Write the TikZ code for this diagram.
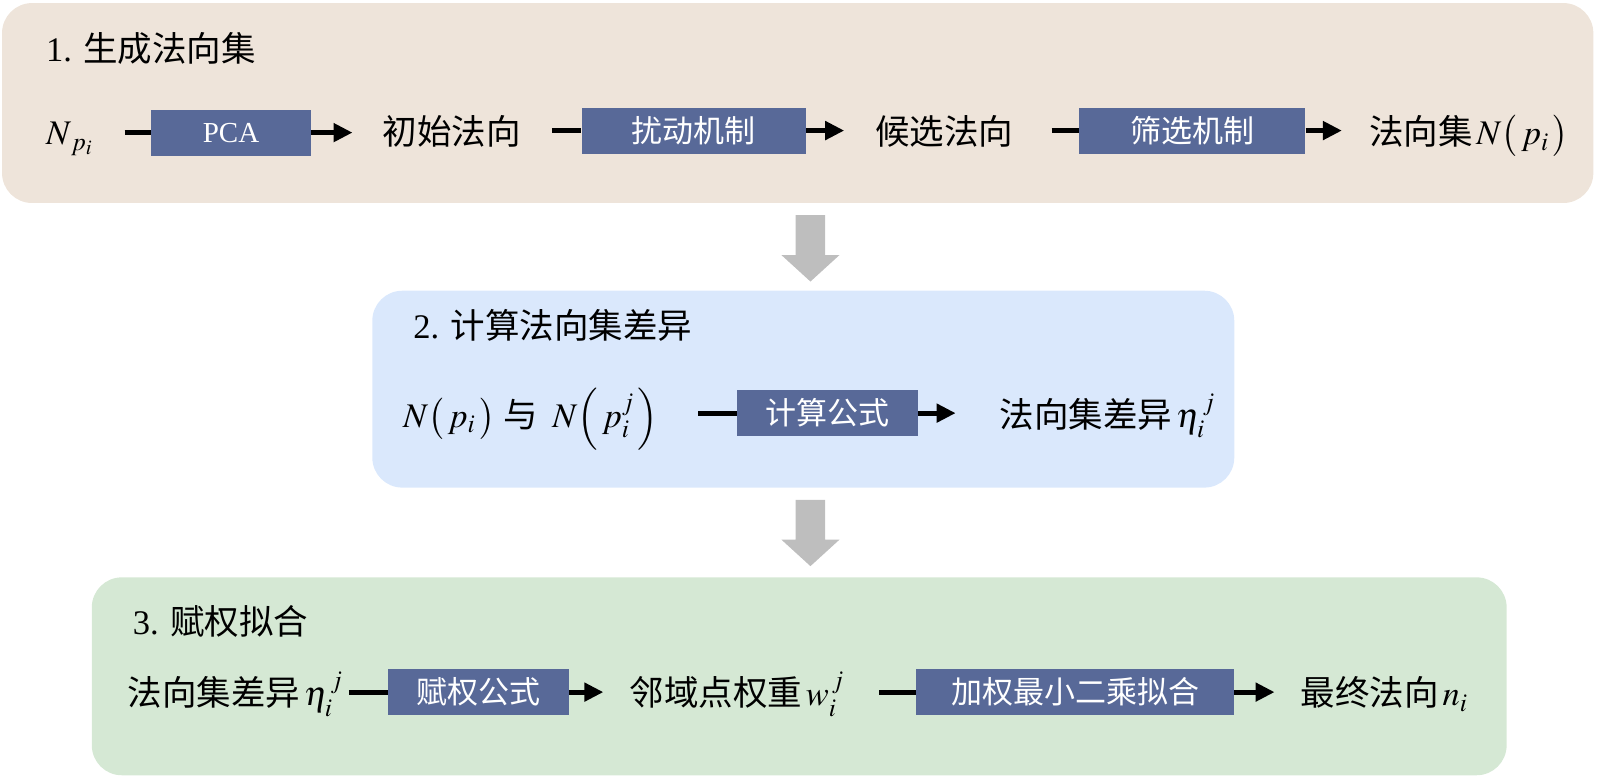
\documentclass[tikz,border=0pt]{standalone}
\usepackage{mathptmx}
\usepackage{fontspec}
\setmainfont{Liberation Serif}
\newfontfamily\cjk{Noto Sans CJK SC}
\usetikzlibrary{arrows.meta}
\definecolor{stageA}{RGB}{238,228,218}
\definecolor{stageB}{RGB}{218,232,252}
\definecolor{stageC}{RGB}{213,232,212}
\definecolor{procfill}{RGB}{88,105,152}
\definecolor{gapgray}{RGB}{190,190,190}
\tikzset{
  stage/.style={rounded corners=30pt},
  title/.style={anchor=base west, inner sep=0pt, font=\fontsize{34.5}{40}\selectfont},
  term/.style={anchor=base west, inner sep=0pt, font=\fontsize{34.5}{40}\selectfont},
  proc/.style={fill=procfill, text=white, inner sep=0pt, minimum height=46pt, font=\fontsize{31}{36}\selectfont\cjk},
  feed/.style={line width=5pt},
  flow/.style={line width=5pt, -{Triangle[length=19pt,width=18pt]}},
}
\newcommand{\gaparrow}[1]{\fill[gapgray] (780,#1) -- (809,#1) -- (809,#1+39) -- (823,#1+39) -- (794.5,#1+65) -- (766,#1+39) -- (780,#1+39) -- cycle;}
\begin{document}
\begin{tikzpicture}[x=1.02pt, y=-1.02pt]
    \useasboundingbox (0,0) rectangle (1565.6,766.7);
    % stages
    \fill[stageA, stage] (2,3) rectangle (1562,199);
    \fill[stageB, stage] (365,285) rectangle (1210,478);
    \fill[stageC, stage] (90,566) rectangle (1477,760);
    \gaparrow{211}
    \gaparrow{490}
    % stage 1
    \node[title] (t1) at (45,60) {1. {\cjk 生成法向集}};
    \node[term] (np) at (45,142) {$N_{\,p_i}$};
    \node[proc, minimum width=160pt, font=\fontsize{29}{36}\selectfont] (pca) at (226.5,130) {PCA};
    \node[term] (init) at (375,142) {\cjk 初始法向};
    \node[proc, minimum width=224pt] (perturb) at (680,128) {扰动机制};
    \node[term] (cand) at (858,142) {\cjk 候选法向};
    \node[proc, minimum width=226pt] (filter) at (1169,128) {筛选机制};
    \node[term] (nset) at (1342,142) {{\cjk 法向集}$\,N\bigl(\,p_i\,\bigr)$};
    \draw[feed, shorten <=32pt] (np.east |- pca.west) -- (pca.west);
    \draw[flow, shorten >=30pt] (pca.east) -- (pca.east -| init.west);
    \draw[feed, shorten <=31pt] (init.east |- perturb.west) -- (perturb.west);
    \draw[flow, shorten >=31pt] (perturb.east) -- (perturb.east -| cand.west);
    \draw[feed, shorten <=38pt] (cand.east |- filter.west) -- (filter.west);
    \draw[flow, shorten >=27pt] (filter.east) -- (filter.east -| nset.west);
    % stage 2
    \node[title] (t2) at (405,332) {2. {\cjk 计算法向集差异}};
    \node[term] (pair) at (395,419) {$N\bigl(\,p_i\,\bigr)$ {\cjk 与}\, $N\Bigl(\,p_i^j\,\Bigr)$};
    \node[proc, minimum width=181pt] (calc) at (811,405) {计算公式};
    \node[term] (diff) at (980,419) {{\cjk 法向集差异}$\,\eta_i^{\,j}$};
    \draw[feed, shorten <=40pt] (pair.east |- calc.west) -- (calc.west);
    \draw[flow, shorten >=44pt] (calc.east) -- (calc.east -| diff.west);
    % stage 3
    \node[title] (t3) at (130,622) {3. {\cjk 赋权拟合}};
    \node[term] (dset) at (125,692) {{\cjk 法向集差异}$\,\eta_i^{\,j}$};
    \node[proc, minimum width=181pt] (weigh) at (469,678.5) {赋权公式};
    \node[term] (wgt) at (617,692) {{\cjk 邻域点权重}$\,w_i^{\,j}$};
    \node[proc, minimum width=318pt] (fit) at (1054,678.5) {加权最小二乘拟合};
    \node[term] (final) at (1275,692) {{\cjk 最终法向}$\,n_i$};
    \draw[feed, shorten <=6pt] (dset.east |- weigh.west) -- (weigh.west);
    \draw[flow, shorten >=26pt] (weigh.east) -- (weigh.east -| wgt.west);
    \draw[feed, shorten <=35pt] (wgt.east |- fit.west) -- (fit.west);
    \draw[flow, shorten >=26pt] (fit.east) -- (fit.east -| final.west);
\end{tikzpicture}
\end{document}
